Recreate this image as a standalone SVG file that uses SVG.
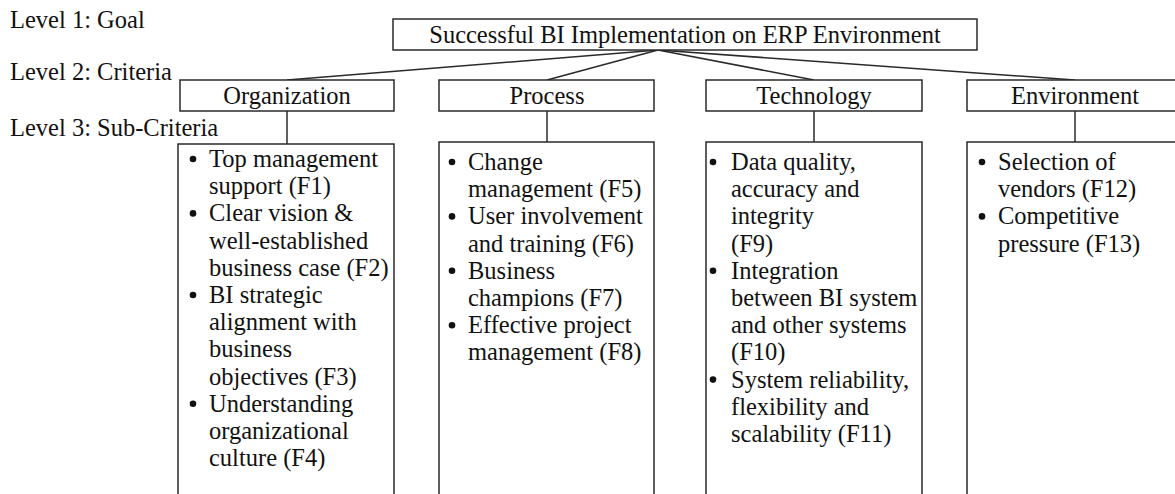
<svg xmlns="http://www.w3.org/2000/svg" width="1175" height="494" viewBox="0 0 1175 494">
<style>
  text { font-family: 'Liberation Serif', Tinos, 'DejaVu Serif', serif; font-size: 24.5px; fill: #111; }
  .c { text-anchor: middle; }
  .box { fill: #fff; stroke: #2a2a2a; stroke-width: 1.5; }
  .ln { stroke: #2a2a2a; stroke-width: 1.5; fill: none; }
  .b { fill: #111; }
</style>
<rect width="1175" height="494" fill="#fff"/>

<g id="level-labels">
  <text x="10" y="28">Level 1: Goal</text>
  <text x="10" y="80">Level 2: Criteria</text>
  <text x="10" y="136">Level 3: Sub-Criteria</text>
</g>

<g id="connectors">
  <line class="ln" x1="658" y1="50" x2="287" y2="80"/>
  <line class="ln" x1="658" y1="50" x2="547" y2="80"/>
  <line class="ln" x1="658" y1="50" x2="814" y2="80"/>
  <line class="ln" x1="658" y1="50" x2="1075" y2="80"/>
  <line class="ln" x1="287" y1="111" x2="287" y2="144"/>
  <line class="ln" x1="547" y1="111" x2="547" y2="142"/>
  <line class="ln" x1="814" y1="111" x2="814" y2="142"/>
  <line class="ln" x1="1075" y1="111" x2="1075" y2="142"/>
</g>

<g id="goal">
  <rect class="box" x="393" y="19" width="584" height="31"/>
  <text class="c" x="685" y="42.5">Successful BI Implementation on ERP Environment</text>
</g>

<g id="organization">
  <rect class="box" x="180" y="80" width="214" height="31"/>
  <text class="c" x="287" y="104">Organization</text>
</g>
<g id="process">
  <rect class="box" x="439" y="80" width="215" height="31"/>
  <text class="c" x="547" y="104">Process</text>
</g>
<g id="technology">
  <rect class="box" x="706" y="80" width="216" height="31"/>
  <text class="c" x="814" y="104">Technology</text>
</g>
<g id="environment">
  <rect class="box" x="967" y="80" width="216" height="31"/>
  <text class="c" x="1075" y="104">Environment</text>
</g>

<g id="organization-sub">
  <rect class="box" x="178" y="144" width="216" height="360"/>
  <circle class="b" cx="193" cy="159" r="3.3"/>
  <circle class="b" cx="193" cy="213.4" r="3.3"/>
  <circle class="b" cx="193" cy="295" r="3.3"/>
  <circle class="b" cx="193" cy="403.8" r="3.3"/>
  <text x="209" y="167">Top management</text>
  <text x="209" y="194.2">support (F1)</text>
  <text x="209" y="221.4">Clear vision &amp;</text>
  <text x="209" y="248.6">well-established</text>
  <text x="209" y="275.8">business case (F2)</text>
  <text x="209" y="303">BI strategic</text>
  <text x="209" y="330.2">alignment with</text>
  <text x="209" y="357.4">business</text>
  <text x="209" y="384.6">objectives (F3)</text>
  <text x="209" y="411.8">Understanding</text>
  <text x="209" y="439">organizational</text>
  <text x="209" y="466.2">culture (F4)</text>
</g>

<g id="process-sub">
  <rect class="box" x="439" y="142" width="215" height="362"/>
  <circle class="b" cx="452" cy="162" r="3.3"/>
  <circle class="b" cx="452" cy="216.4" r="3.3"/>
  <circle class="b" cx="452" cy="270.8" r="3.3"/>
  <circle class="b" cx="452" cy="325.2" r="3.3"/>
  <text x="468" y="170">Change</text>
  <text x="468" y="197.2">management (F5)</text>
  <text x="468" y="224.4">User involvement</text>
  <text x="468" y="251.6">and training (F6)</text>
  <text x="468" y="278.8">Business</text>
  <text x="468" y="306">champions (F7)</text>
  <text x="468" y="333.2">Effective project</text>
  <text x="468" y="360.4">management (F8)</text>
</g>

<g id="technology-sub">
  <rect class="box" x="706" y="142" width="216" height="362"/>
  <circle class="b" cx="713" cy="162" r="3.3"/>
  <circle class="b" cx="713" cy="270.8" r="3.3"/>
  <circle class="b" cx="713" cy="379.6" r="3.3"/>
  <text x="731" y="170">Data quality,</text>
  <text x="731" y="197.2">accuracy and</text>
  <text x="731" y="224.4">integrity</text>
  <text x="731" y="251.6">(F9)</text>
  <text x="731" y="278.8">Integration</text>
  <text x="731" y="306">between BI system</text>
  <text x="731" y="333.2">and other systems</text>
  <text x="731" y="360.4">(F10)</text>
  <text x="731" y="387.6">System reliability,</text>
  <text x="731" y="414.8">flexibility and</text>
  <text x="731" y="442">scalability (F11)</text>
</g>

<g id="environment-sub">
  <rect class="box" x="967" y="142" width="216" height="362"/>
  <circle class="b" cx="982" cy="162" r="3.3"/>
  <circle class="b" cx="982" cy="216.4" r="3.3"/>
  <text x="998" y="170">Selection of</text>
  <text x="998" y="197.2">vendors (F12)</text>
  <text x="998" y="224.4">Competitive</text>
  <text x="998" y="251.6">pressure (F13)</text>
</g>
</svg>
